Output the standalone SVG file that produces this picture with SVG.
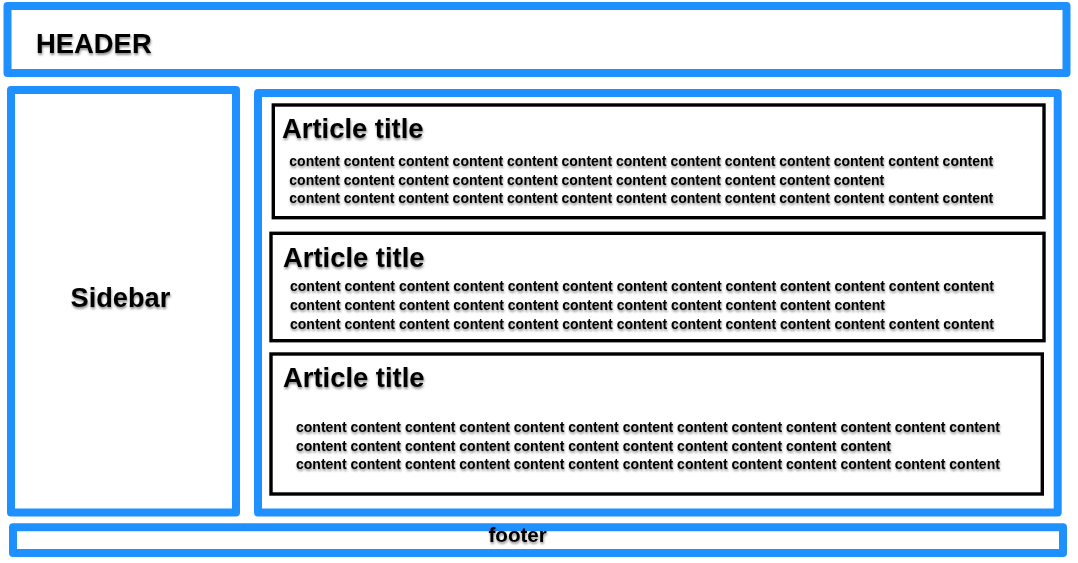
<svg xmlns="http://www.w3.org/2000/svg" width="1078" height="563" viewBox="0 0 1078 563">
<defs>
<filter id="sh" x="-10%" y="-30%" width="120%" height="170%">
<feDropShadow dx="0.6" dy="2" stdDeviation="1.1" flood-color="#000" flood-opacity="0.45"/>
</filter>
<style>
.blue{fill:#fff;stroke:#1e90ff;stroke-width:8;stroke-linejoin:round}
.art{fill:#fff;stroke:#000;stroke-width:3.4}
text{font-family:"Liberation Sans",Arial,sans-serif;font-weight:bold;fill:#000;filter:url(#sh)}
.big{font-size:27.4px}
.c{font-size:14px}
</style>
</defs>
<rect width="1078" height="563" fill="#fff"/>
<g id="header">
<rect class="blue" x="7.5" y="6" width="1059" height="67"/>
<text class="big" x="36" y="53.3">HEADER</text>
</g>
<g id="sidebar">
<rect class="blue" x="11" y="90" width="225" height="422.5"/>
<text x="70.5" y="306.7" style="font-size:27.2px">Sidebar</text>
</g>
<g id="main">
<rect class="blue" x="258" y="93" width="799.7" height="419.5"/>
</g>
<g id="article1">
<rect class="art" x="273.3" y="105" width="770.7" height="112.7"/>
<text class="big" x="282" y="138.3">Article title</text>
<text class="c" x="289.3" y="165.7">content content content content content content content content content content content content content</text>
<text class="c" x="289.3" y="184.7">content content content content content content content content content content content</text>
<text class="c" x="289.3" y="203.3">content content content content content content content content content content content content content</text>
</g>
<g id="article2">
<rect class="art" x="271" y="233.3" width="773" height="107.4"/>
<text class="big" x="283" y="266.7">Article title</text>
<text class="c" x="290" y="290.7">content content content content content content content content content content content content content</text>
<text class="c" x="290" y="310">content content content content content content content content content content content</text>
<text class="c" x="290" y="328.7">content content content content content content content content content content content content content</text>
</g>
<g id="article3">
<rect class="art" x="271" y="354" width="771.3" height="140"/>
<text class="big" x="283" y="386.7">Article title</text>
<text class="c" x="296" y="431.7">content content content content content content content content content content content content content</text>
<text class="c" x="296" y="450.5">content content content content content content content content content content content</text>
<text class="c" x="296" y="469.3">content content content content content content content content content content content content content</text>
</g>
<g id="footer">
<rect class="blue" x="13" y="527.3" width="1050" height="25.8"/>
<text x="488.5" y="541.8" style="font-size:20.6px">footer</text>
</g>
<g id="connectors"/>
</svg>
